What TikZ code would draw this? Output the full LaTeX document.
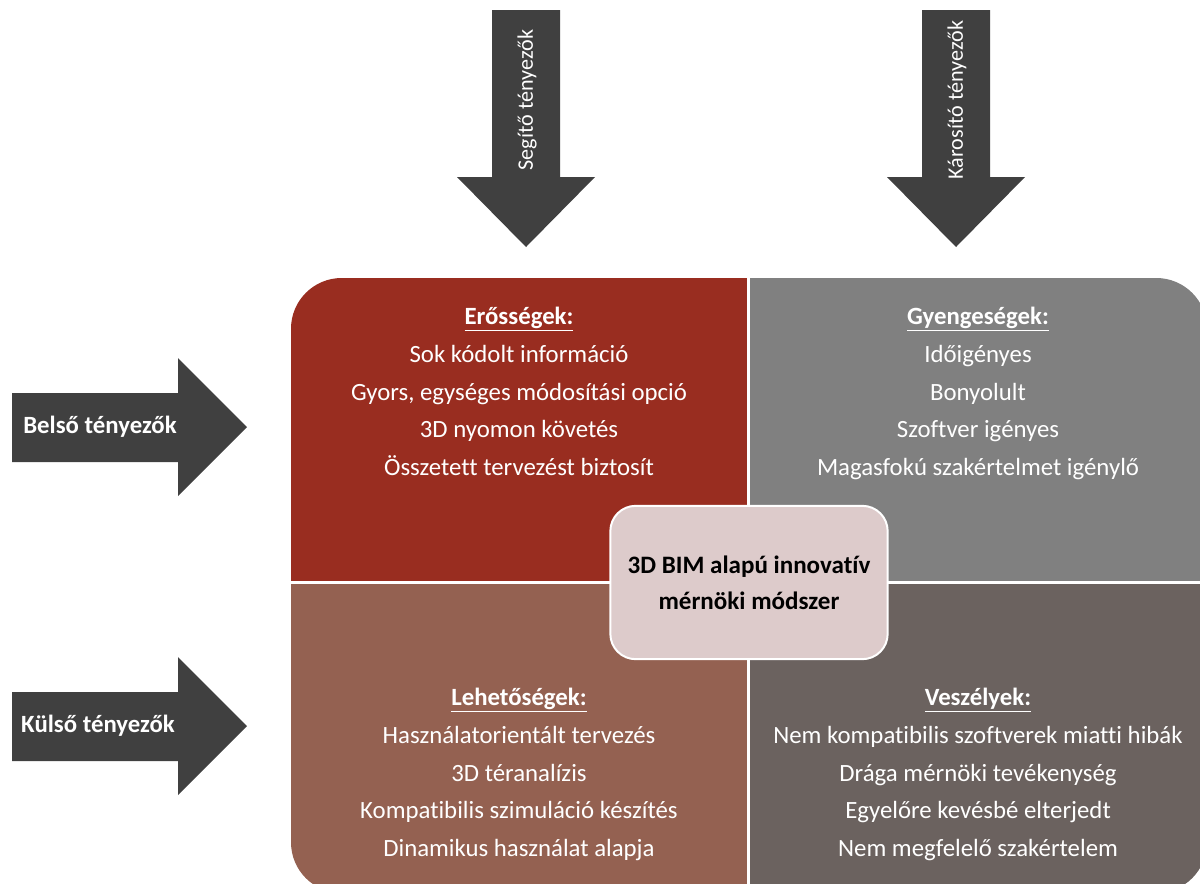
\documentclass[tikz,border=0pt]{standalone}
\usepackage{fontspec}
\setmainfont{Carlito}[Ligatures=NoCommon]
\begin{document}
\begin{tikzpicture}[x=0.75pt,y=-0.75pt,
  arrowfill/.style={fill=arrowgray},
  quadtext/.style={text=white,align=center,font=\fontsize{18.6}{28.3}\selectfont},
  arrowlabel/.style={text=white,font=\bfseries\fontsize{18.6}{22}\selectfont},
  vlabel/.style={text=white,rotate=90,font=\fontsize{16.6}{20}\selectfont},
  centerbox/.style={rectangle,rounded corners=19pt,fill=centerfill,draw=white,line width=1.5pt,
    minimum width=208pt,minimum height=115pt,align=center,
    font=\bfseries\fontsize{18.8}{27}\selectfont}]
\definecolor{arrowgray}{HTML}{404040}
\definecolor{strengthred}{HTML}{992D20}
\definecolor{weakgray}{HTML}{808080}
\definecolor{oppbrown}{HTML}{946151}
\definecolor{threatgray}{HTML}{6B625F}
\definecolor{centerfill}{HTML}{DDCBCB}
\useasboundingbox (0,0) rectangle (1200,883);
\clip (0,0) rectangle (1200,883);

% top arrows
\fill[arrowfill] (492,10) -- (560,10) -- (560,177) -- (595,177) -- (526,247)
  -- (457,177) -- (492,177) -- cycle;
\fill[arrowfill] (922,10) -- (990,10) -- (990,177) -- (1025,177) -- (956,247)
  -- (887,177) -- (922,177) -- cycle;
\node[vlabel] (helping) at (527,100) {Segítő tényezők};
\node[vlabel] (harming) at (957,100) {Károsító tényezők};

% left arrows
\fill[arrowfill] (12,393) -- (178,393) -- (178,358) -- (247,427) -- (178,496)
  -- (178,462) -- (12,462) -- cycle;
\fill[arrowfill] (12,692) -- (178,692) -- (178,657) -- (247,726) -- (178,795)
  -- (178,761) -- (12,761) -- cycle;
\node[arrowlabel] (internal) at (100,427) {Belső tényezők};
\node[arrowlabel] (external) at (98,726) {Külső tényezők};

% SWOT quadrants
\begin{scope}
  \clip[rounded corners=38pt] (291,278) rectangle (1207,893);
  \fill[strengthred] (291,278) rectangle (747,581);
  \fill[weakgray] (750,278) rectangle (1207,581);
  \fill[oppbrown] (291,584) rectangle (747,893);
  \fill[threatgray] (750,584) rectangle (1207,893);
\end{scope}

\node[quadtext,anchor=north] (strengths) at (519,302.5) {%
  \textbf{\underline{Erősségek:}}\\
  Sok kódolt információ\\
  Gyors, egységes módosítási opció\\
  3D nyomon követés\\
  Összetett tervezést biztosít};
\node[quadtext,anchor=north] (weaknesses) at (978,302.5) {%
  \textbf{\underline{Gyengeségek:}}\\
  Időigényes\\
  Bonyolult\\
  Szoftver igényes\\
  Magasfokú szakértelmet igénylő};
\node[quadtext,anchor=north] (opportunities) at (519,683.5) {%
  \textbf{\underline{Lehetőségek:}}\\
  Használatorientált tervezés\\
  3D téranalízis\\
  Kompatibilis szimuláció készítés\\
  Dinamikus használat alapja};
\node[quadtext,anchor=north] (threats) at (978,683.5) {%
  \textbf{\underline{Veszélyek:}}\\
  Nem kompatibilis szoftverek miatti hibák\\
  Drága mérnöki tevékenység\\
  Egyelőre kevésbé elterjedt\\
  Nem megfelelő szakértelem};

% centre
\node[centerbox] (core) at (749,582.5) {3D BIM alapú innovatív\\mérnöki módszer};
\end{tikzpicture}
\end{document}
